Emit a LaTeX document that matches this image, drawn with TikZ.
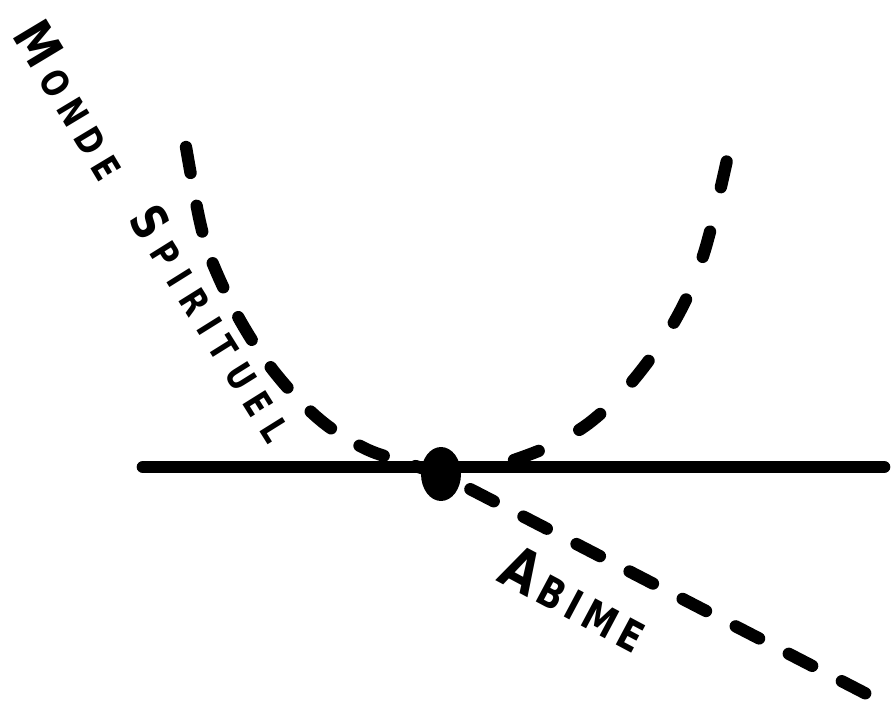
\documentclass[tikz,border=0pt]{standalone}
\usepackage{fontspec}
\newfontfamily\handfont[FakeStretch=0.8]{DejaVu Sans}
\usetikzlibrary{shapes.geometric}

% first letter large, the rest small and spread out
\newcommand{\handword}[5]{\fontsize{#2}{#2}\selectfont\addfontfeatures{LetterSpace=#3}{\fontsize{#1}{#1}\selectfont #4}\hspace{0.#3em}#5}

\begin{document}
\begin{tikzpicture}[
        x=0.02cm, y=-0.02cm,
        ground/.style={line width=7.2pt, line cap=round},
        trail/.style={line width=7pt, line cap=round, dash pattern=on 15pt off 19pt},
        rise/.style={line width=7pt, line cap=round, dash pattern=on 15pt off 26pt},
        dot/.style={ellipse, fill, inner sep=0pt, minimum width=0.8cm, minimum height=1.08cm},
        lbl/.style={inner sep=0pt, font=\handfont\bfseries},
    ]
    \useasboundingbox (0,0) rectangle (891,712);

    % === Horizon ===
    \coordinate (hleft) at (143,467);
    \coordinate (hright) at (884,467);
    \draw[ground] (hleft) -- (hright);

    \node[dot] (centre) at (441,474) {};

    % === Descending trail ===
    \coordinate (lefttop) at (186,147);
    \coordinate (diagend) at (884,703);
    \draw[trail] plot[smooth, tension=0.6] coordinates {(lefttop) (200,222) (213,264) (241,322) (276,374) (319,419) (362,447) (400,461) (centre.center)} -- (diagend);

    % === Rising arm ===
    \coordinate (risestart) at (514,460);
    \coordinate (risetop) at (727,160);
    \draw[rise] plot[smooth, tension=0.6] coordinates {(risestart) (552,445) (593,420) (636,377) (677,317) (704,253) (risetop)};

    % === Labels ===
    \node[lbl, rotate=-59] (monde) at (72,100) {\handword{30}{21}{25}{M}{ONDE}};
    \node[lbl, rotate=-58] (spirituel) at (213,323) {\handword{28}{21}{30}{S}{PIRITUEL}};
    \node[lbl, rotate=-28] (abime) at (575,598) {\handword{34}{24}{15}{A}{BIME}};

\end{tikzpicture}
\end{document}
